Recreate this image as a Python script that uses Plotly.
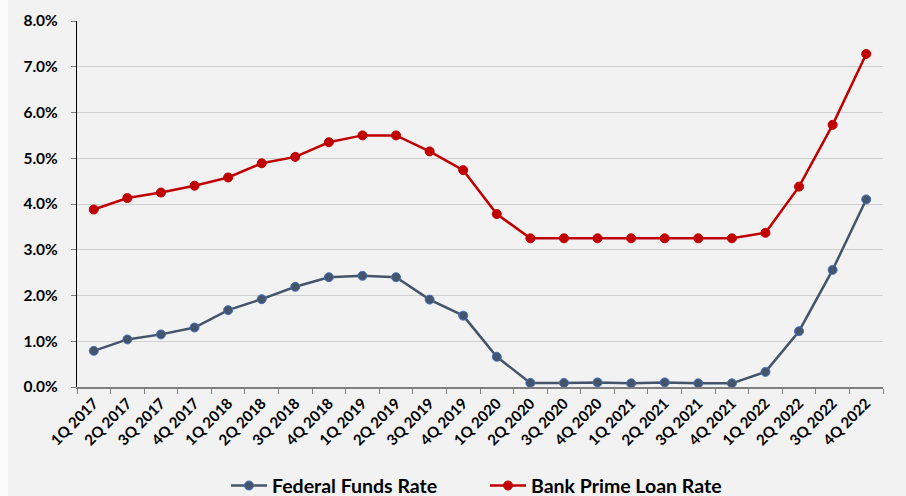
import plotly.graph_objects as go

quarters = ["1Q 2017", "2Q 2017", "3Q 2017", "4Q 2017", "1Q 2018", "2Q 2018", "3Q 2018", "4Q 2018",
            "1Q 2019", "2Q 2019", "3Q 2019", "4Q 2019", "1Q 2020", "2Q 2020", "3Q 2020", "4Q 2020",
            "1Q 2021", "2Q 2021", "3Q 2021", "4Q 2021", "1Q 2022", "2Q 2022", "3Q 2022", "4Q 2022"]

fed_funds = [0.79, 1.04, 1.15, 1.30, 1.68, 1.92, 2.19, 2.40,
             2.43, 2.40, 1.91, 1.56, 0.66, 0.09, 0.09, 0.10,
             0.08, 0.10, 0.08, 0.08, 0.33, 1.22, 2.56, 4.10]

prime_rate = [3.88, 4.13, 4.25, 4.40, 4.58, 4.89, 5.03, 5.35,
              5.50, 5.50, 5.15, 4.74, 3.78, 3.25, 3.25, 3.25,
              3.25, 3.25, 3.25, 3.25, 3.37, 4.38, 5.73, 7.28]

y_ticks = [0, 1, 2, 3, 4, 5, 6, 7, 8]
y_labels = [f"{v:.1f}%" for v in y_ticks]

FONT = "Lato"
BG = "#f2f2f2"

fig = go.Figure()
fig.add_trace(go.Scatter(
    x=quarters, y=fed_funds, name="Federal Funds Rate", mode="lines+markers",
    line=dict(color="#44546a", width=2.5),
    marker=dict(size=9, color="#44546a", line=dict(color="#4472c4", width=1)),
))
fig.add_trace(go.Scatter(
    x=quarters, y=prime_rate, name="Bank Prime Loan Rate", mode="lines+markers",
    line=dict(color="#c00000", width=2.5),
    marker=dict(size=9, color="#c00000", line=dict(color="#c00000", width=1)),
))

fig.update_layout(
    width=906, height=496,
    margin=dict(l=77, r=23, t=21, b=109, autoexpand=False),
    paper_bgcolor=BG, plot_bgcolor=BG,
    font=dict(family=FONT, color="#000000"),
    showlegend=True,
    legend=dict(orientation="h", x=(226 - 77) / 806, xanchor="left", y=-0.27, yanchor="middle",
                font=dict(family=FONT, size=19.5, color="#000000", weight="bold"),
                bgcolor="rgba(0,0,0,0)", itemwidth=36, tracegroupgap=0,
                entrywidth=208),
    xaxis=dict(
        type="category", range=[-0.5, len(quarters) - 0.5], automargin=False,
        tickangle=-45, tickfont=dict(family=FONT, size=15, weight="bold"),
        showgrid=False, showline=True, linecolor="#7f7f7f", linewidth=1.5,
        ticks="outside", ticklen=5, tickcolor="#7f7f7f", tickson="boundaries",
        zeroline=False,
    ),
    yaxis=dict(
        range=[0, 8], tickvals=y_ticks, ticktext=y_labels, automargin=False,
        tickfont=dict(family=FONT, size=15.5, weight="bold"),
        showgrid=True, gridcolor="#cfcfcf", gridwidth=1.3,
        showline=True, linecolor="#000000", linewidth=1.2,
        ticks="outside", ticklen=5, tickcolor="#7f7f7f", ticklabelstandoff=10,
        zeroline=False,
    ),
    shapes=[dict(type="rect", xref="paper", yref="paper",
                 x0=-77 / 806, x1=-69 / 806, y0=-109 / 366, y1=1 + 21 / 366,
                 fillcolor="#fbfbfb", line=dict(width=0), layer="below")],
)

fig.write_html("out.html")
